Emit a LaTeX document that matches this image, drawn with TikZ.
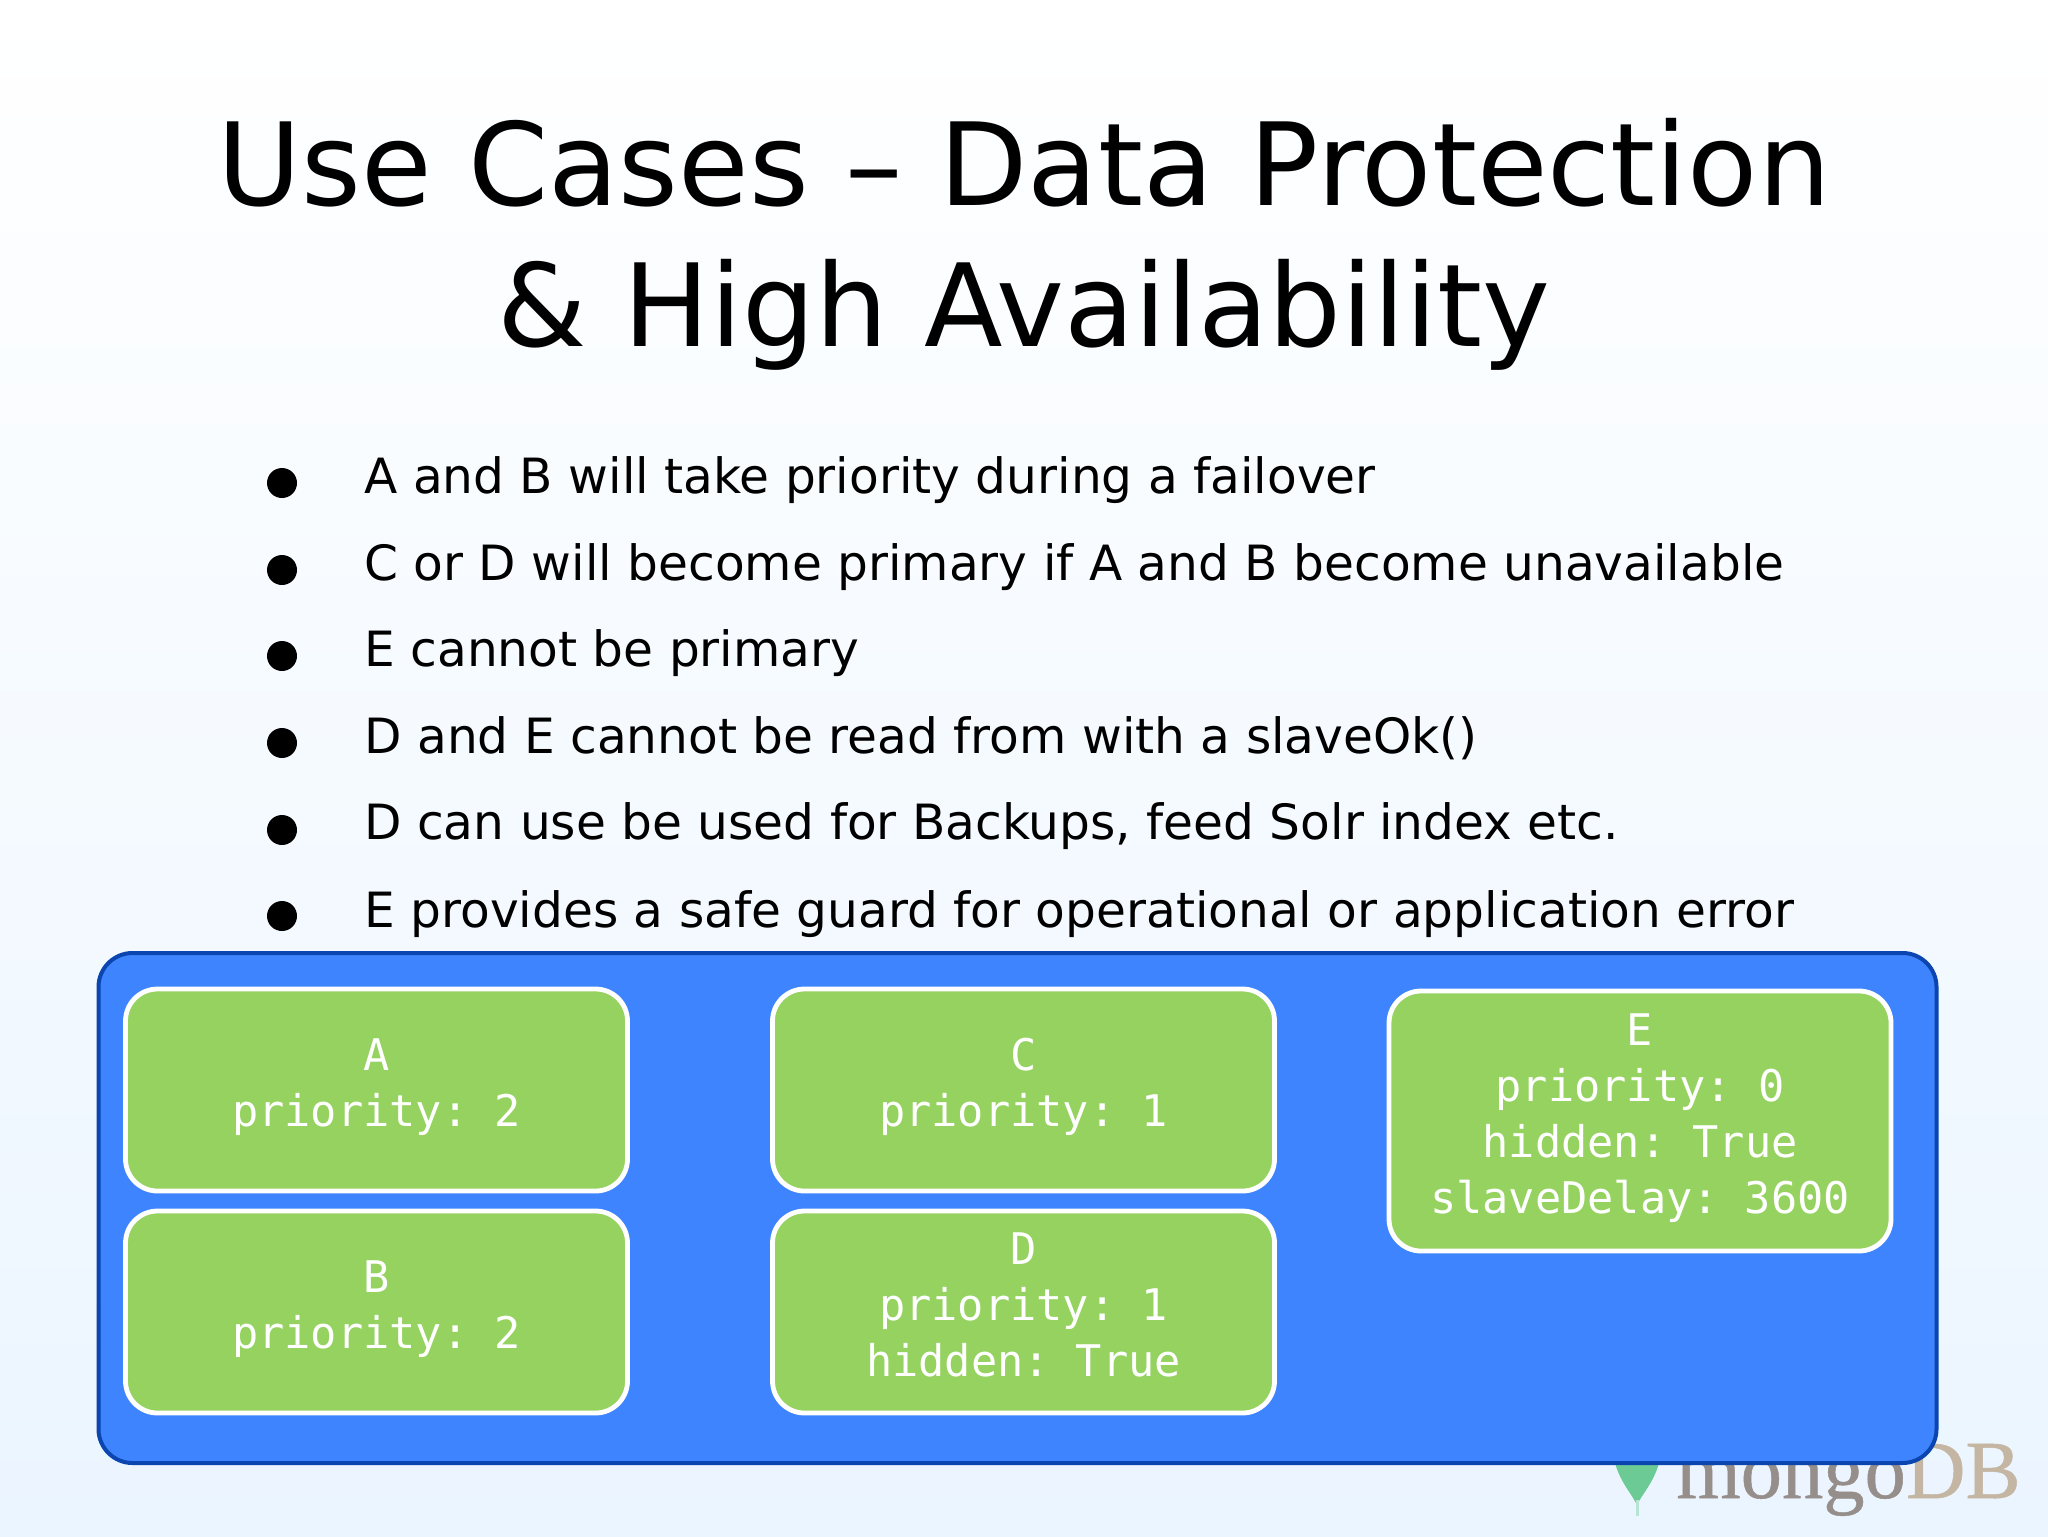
\documentclass[tikz,border=0pt]{standalone}
\usepackage{fontspec}
\setmainfont{DejaVu Sans}
\setmonofont{DejaVu Sans Mono}
\newfontfamily\logofont[FakeBold=0.6]{Liberation Serif}
\definecolor{bgblue}{HTML}{EBF5FF}
\definecolor{setblue}{HTML}{3F84FF}
\definecolor{setedge}{HTML}{0A45B0}
\definecolor{memgreen}{HTML}{95D25F}
\definecolor{leafgreen}{HTML}{6CCB94}
\definecolor{logogray}{HTML}{958E8B}
\definecolor{logotan}{HTML}{C4B6A2}
\tikzset{
  titletext/.style={font=\fontsize{57.4}{70}\selectfont, anchor=base, inner sep=0pt},
  itemtext/.style={font=\fontsize{24.3}{30}\selectfont, anchor=base west, inner sep=0pt},
  itemdot/.style={circle, fill=black, minimum size=15pt, inner sep=0pt},
  member/.style={draw=white, line width=2.4pt, fill=memgreen, rounded corners=16pt, outer sep=0pt,
    minimum width=251pt, text=white, align=center, text depth=7.5pt,
    font=\ttfamily\fontsize{21.8}{28}\selectfont},
}
\begin{document}
\begin{tikzpicture}[x=0.5pt, y=-0.5pt]
  % Fondo
  \useasboundingbox (0, 0) rectangle (2048, 1536);
  \shade[top color=white, bottom color=bgblue] (0, 0) rectangle (2048, 1536);

  % Titulo
  \node[titletext] (title1) at (1024, 205) {Use Cases – Data Protection};
  \node[titletext] (title2) at (1024, 346) {\& High Availability};

  % Lista
  \node[itemdot] (dot1) at (282, 483) {};
  \node[itemdot] (dot2) at (282, 570) {};
  \node[itemdot] (dot3) at (282, 656) {};
  \node[itemdot] (dot4) at (282, 743) {};
  \node[itemdot] (dot5) at (282, 830) {};
  \node[itemdot] (dot6) at (282, 916) {};
  \node[itemtext] (item1) at (364, 493) {A and B will take priority during a failover};
  \node[itemtext] (item2) at (364, 580) {C or D will become primary if A and B become unavailable};
  \node[itemtext] (item3) at (364, 666) {E cannot be primary};
  \node[itemtext] (item4) at (364, 753) {D and E cannot be read from with a slaveOk()};
  \node[itemtext] (item5) at (364, 839) {D can use be used for Backups, feed Solr index etc.};
  \node[itemtext] (item6) at (364, 927) {E provides a safe guard for operational or application error};

  % Logo
  \fill[leafgreen] (1612, 1440) .. controls (1612, 1475) and (1630, 1490) .. (1637, 1505)
    .. controls (1644, 1490) and (1662, 1475) .. (1662, 1440) -- cycle;
  \draw[leafgreen!40!bgblue, line width=1.5pt] (1637, 1500) -- (1637, 1516);
  \node[anchor=base west, inner sep=0pt, font=\logofont\fontsize{41.3}{44}\selectfont] (logo) at (1676, 1498)
    {\textcolor{logogray}{mongo}\textcolor{logotan}{DB}};

  % Conjunto
  \node[draw=setedge, line width=2pt, fill=setblue, rounded corners=17pt, outer sep=0pt,
    minimum width=919pt, minimum height=255pt] (set) at (1017.5, 1208) {};

  % Miembros
  \node[member, minimum height=101pt] (memA) at (376.5, 1090) {A\\priority: 2};
  \node[member, minimum height=101pt] (memB) at (376.5, 1312) {B\\priority: 2};
  \node[member, minimum height=101pt] (memC) at (1023.5, 1090) {C\\priority: 1};
  \node[member, minimum height=101pt] (memD) at (1023.5, 1312) {D\\priority: 1\\hidden: True};
  \node[member, minimum height=130pt] (memE) at (1640, 1121) {E\\priority: 0\\hidden: True\\slaveDelay: 3600};
\end{tikzpicture}
\end{document}
